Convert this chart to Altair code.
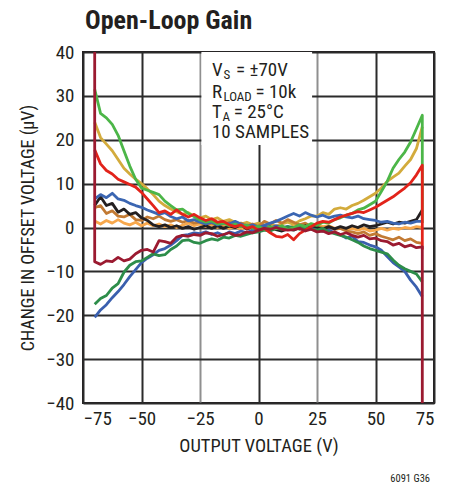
import altair as alt
import pandas as pd

FONT = "Liberation Sans Narrow, Roboto Condensed, Arial Narrow, Liberation Sans, sans-serif"
INK = "#231f20"

# Output voltage sample points (V)
X_V = [-70, -67.5, -65, -62.5, -60, -57.5, -55, -52.5, -50, -47.5, -45, -42.5, -40, -37.5,
       -35, -32.5, -30, -27.5, -25, -22.5, -20, -17.5, -15, -12.5, -10, -7.5, -5, -2.5,
       0, 2.5, 5, 7.5, 10, 12.5, 15, 17.5, 20, 22.5, 25, 27.5, 30, 32.5, 35, 37.5,
       40, 42.5, 45, 47.5, 50, 52.5, 55, 57.5, 60, 62.5, 65, 67.5, 70]

# Change in offset voltage (uV), one list per sample
GOLD = [24, 20.5, 19, 17.5, 15.5, 13.5, 12.2, 11, 10, 8.8, 7.5, 6.0, 5.0, 4.2,
        3.6, 3.0, 3.4, 2.6, 2.2, 2.6, 1.8, 2.2, 1.4, 1.8, 1.2, 0.8, 1.2, 0.6,
        1.0, 0.4, 0.9, 0.3, 0.8, 1.2, 0.7, 1.5, 2.0, 2.6, 2.6, 3.4, 3.0, 4.2, 4.5, 4.2,
        5.0, 5.5, 6.2, 7.0, 7.8, 9.0, 10.5, 11.5, 12.4, 14.0, 15.5, 18.0, 23.0]
LT_ORANGE = [1.5, 0.8, 1.6, 1.0, 1.8, 1.0, 0.6, 1.2, 0.4, 1.0, 0.4, 0.8, 0.2, 0.6,
             0.0, 0.5, 1.0, 0.4, 0.8, 0.2, 0.6, 0.0, 0.4, -0.2, 0.2, -0.3, 0.1, -0.4,
             0.0, -0.5, 0.0, -0.4, 0.2, -0.2, 0.3, 0.0, 0.5, 0.1, 0.6, 0.2, 0.4, -0.2, 0.0, -0.4,
             -0.2, -0.6, -0.2, -0.8, -0.6, -0.2, -0.6, -0.2, -0.4, 0.0, -0.2, 0.2, 0.0]
BROWN = [4.5, 5.0, 3.2, 3.8, 2.6, 2.4, 3.0, 1.8, 1.6, 2.4, 2.0, 2.6, 1.8, 1.4,
         1.8, 1.2, 1.6, 1.0, 1.2, 0.6, 1.0, 0.4, 0.8, 1.2, 0.6, 1.0, 0.4, 0.8,
         0.2, 1.4, 0.8, 1.6, 1.0, 1.8, 1.2, 0.6, 1.0, 0.2, 0.4, -0.2, 0.2, -0.4, -0.2, -0.8,
         -1.0, -1.4, -1.0, -1.8, -1.4, -2.0, -2.4, -2.8, -2.2, -3.0, -2.6, -3.4, -3.6]
BLACK = [5.0, 7.0, 5.0, 5.5, 3.5, 4.2, 3.0, 3.4, 2.2, 1.6, 0.6, 0.2, 0.6, 0.0,
         0.4, -0.2, 0.2, -0.4, 0.0, 0.4, -0.2, 0.4, -0.2, 0.3, 0.0, 0.5, -0.3, 0.2,
         -0.4, -0.1, 0.2, -0.5, -0.8, -0.3, -0.6, 0.0, 0.4, -0.2, 0.0, -0.4, 0.2, -0.3, 0.2, -0.2,
         0.4, 0.0, 0.6, 0.2, 0.4, 0.8, 1.2, 0.8, 1.2, 1.0, 1.4, 1.8, 4.0]
BLUE_A = [6.5, 7.5, 6.8, 7.8, 6.5, 6.2, 5.5, 5.0, 4.6, 4.0, 3.5, 3.0, 3.4, 2.5,
          2.0, 2.4, 1.5, 1.8, 1.2, 0.8, 1.2, 0.6, 1.0, 0.8, 1.4, 0.8, 0.2, 0.6,
          0.0, 0.5, 1.0, 1.4, 2.0, 2.6, 3.2, 2.6, 3.4, 2.8, 2.4, 2.8, 2.2, 2.6, 2.8, 2.4,
          2.2, 2.6, 2.0, 1.8, 1.6, 1.2, 1.4, 1.0, 0.8, 1.2, 1.0, 1.4, 1.4]
BLUE_B = [-20.5, -18.8, -17.6, -16.0, -14.6, -13.0, -11.2, -9.6, -8.0, -7.0, -6.2, -5.2, -4.8, -4.0,
          -3.0, -1.8, -1.6, -1.2, -1.4, -1.0, -1.6, -1.2, -1.8, -1.0, -1.4, -0.8, -1.2, -0.6,
          -0.2, 0.2, -0.2, 0.4, 0.0, 0.2, -0.4, 0.0, -0.6, -0.2, -0.6, -0.8, -0.6, -1.2, -1.6, -2.4,
          -2.0, -3.2, -3.4, -4.0, -4.4, -5.2, -6.6, -8.0, -9.0, -10.0, -12.0, -13.6, -15.8]
DK_GREEN = [-17.5, -16.2, -15.5, -13.8, -12.8, -10.2, -8.6, -7.8, -7.6, -6.8, -6.0, -6.4, -6.2, -5.0,
            -4.2, -3.0, -2.8, -3.4, -3.6, -3.0, -2.6, -2.9, -2.2, -2.4, -1.8, -2.0, -1.6, -1.2,
            -1.0, -0.6, -0.8, -0.2, -0.4, 0.2, 0.0, -0.4, 0.2, -0.4, -0.6, -0.2, -1.0, -1.4, -1.8, -2.2,
            -2.8, -3.4, -4.2, -4.8, -5.2, -5.6, -6.0, -7.4, -8.6, -9.4, -10.0, -10.6, -12.4]
GREEN = [31.5, 26, 25, 23.5, 21, 17.5, 14, 11, 9, 8.5, 8, 7.5, 6, 5,
         4, 4.2, 3.2, 2.5, 1.7, 1.2, 1.5, 0.8, 1.0, 0.4, 0.8, 0.2, 0.6, -0.2,
         0.3, -0.4, 0.2, -0.3, 0.4, -0.5, 0.0, 0.6, 0.2, 0.9, 0.5, 1.2, 1.0, 1.8, 2.2, 2.8,
         3.2, 4.0, 4.4, 5.2, 6.0, 8.2, 10.5, 13.5, 15.5, 17.2, 19.5, 22.5, 25.6]
RED = [17.7, 14.5, 13.0, 12.2, 11.0, 10.4, 9.8, 9.2, 8.0, 6.5, 5.0, 3.4, 3.8, 3.0,
       4.0, 3.0, 2.4, 3.0, 2.2, 1.6, 2.0, 1.2, 1.4, 0.6, 0.2, 0.6, -0.2, 0.2,
       -0.6, -0.2, -1.2, -2.0, -2.2, -1.6, -2.8, -1.4, -0.6, 0.2, 1.0, 1.4, 1.2, 1.8, 2.4, 2.8,
       3.2, 3.6, 3.4, 4.0, 4.6, 5.4, 6.2, 7.0, 8.0, 9.0, 10.2, 12.0, 14.2]
DK_RED = [-7.8, -8.4, -7.6, -7.8, -6.8, -7.6, -7.2, -6.0, -5.2, -5.0, -5.6, -3.0, -3.2, -3.6,
          -2.2, -1.8, -2.0, -1.6, -1.8, -1.2, -1.4, -2.0, -1.6, -1.2, -1.8, -1.6, -1.0, -1.2,
          -0.6, -0.2, -0.4, 0.0, -0.4, -0.6, -0.5, -0.2, -0.8, -0.4, -1.0, -0.8, -1.4, -1.0, -1.6, -1.2,
          -1.8, -2.2, -1.8, -2.6, -2.4, -3.0, -3.2, -4.0, -3.6, -4.4, -4.0, -4.6, -4.4]

# sweep end jumps at +/-70 V: (x, y) added before / after the sweep
START_JUMP = {"s10": (-70, 40)}
END_JUMP = {"s08": (70, 1.0), "s09": (70, -5.0), "s10": (70, -40)}

SERIES = [("s01", GOLD), ("s02", LT_ORANGE), ("s03", BROWN), ("s04", BLACK),
          ("s05", BLUE_A), ("s06", BLUE_B), ("s07", DK_GREEN), ("s08", GREEN),
          ("s09", RED), ("s10", DK_RED)]
COLORS = ["#d3ab3c", "#f8a84c", "#c27a33", "#231f20", "#3b66b2", "#3a5fae",
          "#2d8d4a", "#4cb648", "#e2231a", "#9b1a30"]

X_TICKS = [-75, -50, -25, 0, 25, 50, 75]
Y_TICKS = [-40, -30, -20, -10, 0, 10, 20, 30, 40]

rows = []
for name, vals in SERIES:
    seq = 0
    if name in START_JUMP:
        rows.append({"series": name, "seq": seq, "x": START_JUMP[name][0], "y": START_JUMP[name][1]})
        seq += 1
    for xv, yv in zip(X_V, vals):
        rows.append({"series": name, "seq": seq, "x": xv, "y": yv})
        seq += 1
    if name in END_JUMP:
        rows.append({"series": name, "seq": seq, "x": END_JUMP[name][0], "y": END_JUMP[name][1]})
df = pd.DataFrame(rows)

# annotation layout (data units)
BOX = pd.DataFrame([{"x": -24.4, "x2": 22.9, "y": 18.8, "y2": 40}])
NOTE_MAIN = pd.DataFrame([
    {"t": "V", "x": -19.9, "y": 34.6},
    {"t": "= \u00b170V", "x": -9.6, "y": 34.6},
    {"t": "R", "x": -19.9, "y": 29.5},
    {"t": "= 10k", "x": -1.3, "y": 29.5},
    {"t": "T", "x": -19.9, "y": 24.9},
    {"t": "= 25\u00b0C", "x": -10.6, "y": 24.9},
    {"t": "10 SAMPLES", "x": -19.9, "y": 20.3},
])
NOTE_SUB = pd.DataFrame([
    {"t": "S", "x": -15.0, "y": 33.8},
    {"t": "LOAD", "x": -15.0, "y": 28.8},
    {"t": "A", "x": -15.4, "y": 24.2},
])

xs = alt.Scale(domain=[-75, 75], nice=False)
ys = alt.Scale(domain=[-40, 40], nice=False)

x_axis = alt.Axis(values=X_TICKS, title="OUTPUT VOLTAGE (V)", ticks=False, labelPadding=6,
                  labelFontSize=19, titleFontSize=18.5, titlePadding=8,
                  gridColor=alt.condition("datum.value == 25 || datum.value == -25",
                                          alt.value("#8f8f8f"), alt.value("#2b2b2b")),
                  gridWidth=2, domain=False)
y_axis = alt.Axis(values=Y_TICKS, title="CHANGE IN OFFSET VOLTAGE (\u00b5V)", ticks=False,
                  labelPadding=9, labelFontSize=19, titleFontSize=18, titlePadding=8,
                  gridColor="#2b2b2b", gridWidth=2, domain=False)

box = alt.Chart(BOX).mark_rect(color="white").encode(
    x=alt.X("x:Q", scale=xs, axis=x_axis), x2="x2:Q",
    y=alt.Y("y:Q", scale=ys, axis=y_axis), y2="y2:Q")

lines = alt.Chart(df).mark_line(strokeWidth=2.8, clip=True, strokeJoin="round").encode(
    x=alt.X("x:Q", scale=xs),
    y=alt.Y("y:Q", scale=ys),
    color=alt.Color("series:N", scale=alt.Scale(domain=[s for s, _ in SERIES], range=COLORS),
                    legend=None),
    order=alt.Order("seq:Q"),
)

note_main = alt.Chart(NOTE_MAIN).mark_text(align="left", baseline="alphabetic", fontSize=19,
                                            font=FONT, color=INK).encode(
    x=alt.X("x:Q", scale=xs), y=alt.Y("y:Q", scale=ys), text="t:N")
note_sub = alt.Chart(NOTE_SUB).mark_text(align="left", baseline="alphabetic", fontSize=13,
                                          font=FONT, color=INK).encode(
    x=alt.X("x:Q", scale=xs), y=alt.Y("y:Q", scale=ys), text="t:N")

title = alt.Chart(pd.DataFrame([{"t": "Open-Loop Gain"}])).mark_text(
    align="left", baseline="alphabetic", fontSize=26, fontWeight="bold", font=FONT,
    color=INK).encode(x=alt.value(2), y=alt.value(-23), text="t:N")

code = alt.Chart(pd.DataFrame([{"t": "6091 G36"}])).mark_text(
    align="right", baseline="alphabetic", fontSize=10.5, font=FONT, color=INK).encode(
    x=alt.value(347), y=alt.value(430), text="t:N")

chart = alt.layer(box, lines, note_main, note_sub, title, code).properties(
    width=351, height=351,
    autosize=alt.AutoSizeParams(type="none"),
    padding={"left": 75, "top": 44, "right": 20, "bottom": 90},
).configure_view(stroke=INK, strokeWidth=2).configure_axis(
    labelFont=FONT, titleFont=FONT, labelColor=INK, titleColor=INK, titleFontWeight="normal"
)

chart.save("out.html", embed_options={"renderer": "svg", "actions": False})
